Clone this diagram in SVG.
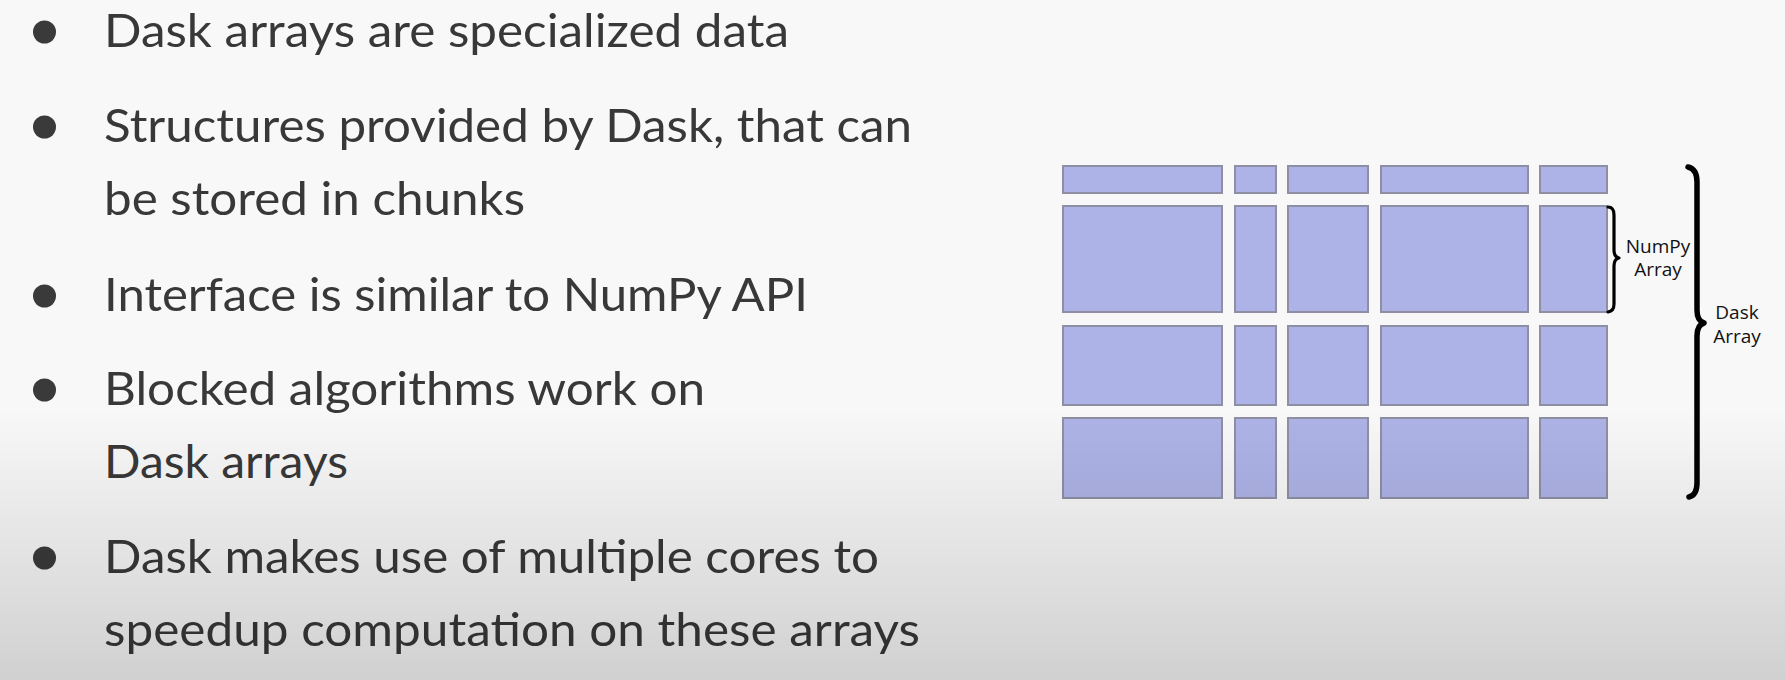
<svg xmlns="http://www.w3.org/2000/svg" width="1785" height="680" viewBox="0 0 1785 680">
  <defs>
    <linearGradient id="shade" x1="0" y1="0" x2="0" y2="680" gradientUnits="userSpaceOnUse">
      <stop offset="0" stop-color="#000" stop-opacity="0"/>
      <stop offset="0.6" stop-color="#000" stop-opacity="0"/>
      <stop offset="1" stop-color="#000" stop-opacity="0.16"/>
    </linearGradient>
  </defs>
  <style>
    .bt { font-family: Lato, "Open Sans", "Liberation Sans", sans-serif; font-size: 47px; fill: #383838; }
    .dot { fill: #3a3a3a; }
    .chunk { fill: #aeb3e7; stroke: #8e8fa3; stroke-width: 2; }
    .lbl { font-family: "Open Sans", "Noto Sans", "DejaVu Sans", sans-serif; font-size: 19px; fill: #111; text-anchor: middle; }
    .brace { fill: none; stroke: #000; stroke-linecap: round; stroke-linejoin: round; }
  </style>
  <rect x="0" y="0" width="1785" height="680" fill="#f8f8f8"/>

  <g id="bullets">
    <g id="bullet1">
      <circle class="dot" cx="44.5" cy="32" r="11.5"/>
      <text class="bt" x="104" y="47" textLength="685" lengthAdjust="spacingAndGlyphs">Dask arrays are specialized data</text>
    </g>
    <g id="bullet2">
      <circle class="dot" cx="44.5" cy="127" r="11.5"/>
      <text class="bt" x="104" y="142" textLength="808" lengthAdjust="spacingAndGlyphs">Structures provided by Dask, that can</text>
      <text class="bt" x="104" y="215" textLength="421" lengthAdjust="spacingAndGlyphs">be stored in chunks</text>
    </g>
    <g id="bullet3">
      <circle class="dot" cx="44.5" cy="296" r="11.5"/>
      <text class="bt" x="104" y="311" textLength="704" lengthAdjust="spacingAndGlyphs">Interface is similar to NumPy API</text>
    </g>
    <g id="bullet4">
      <circle class="dot" cx="44.5" cy="390" r="11.5"/>
      <text class="bt" x="104" y="405" textLength="601" lengthAdjust="spacingAndGlyphs">Blocked algorithms work on</text>
      <text class="bt" x="104" y="478" textLength="244" lengthAdjust="spacingAndGlyphs">Dask arrays</text>
    </g>
    <g id="bullet5">
      <circle class="dot" cx="44.5" cy="558" r="11.5"/>
      <text class="bt" x="104" y="573" textLength="775" lengthAdjust="spacingAndGlyphs">Dask makes use of multiple cores to</text>
      <text class="bt" x="104" y="646" textLength="816" lengthAdjust="spacingAndGlyphs">speedup computation on these arrays</text>
    </g>
  </g>

  <g id="dask-array">
    <g id="row1">
      <rect class="chunk" x="1063" y="166" width="159" height="27"/>
      <rect class="chunk" x="1235" y="166" width="41" height="27"/>
      <rect class="chunk" x="1288" y="166" width="80" height="27"/>
      <rect class="chunk" x="1381" y="166" width="147" height="27"/>
      <rect class="chunk" x="1540" y="166" width="67" height="27"/>
    </g>
    <g id="row2">
      <rect class="chunk" x="1063" y="206" width="159" height="106"/>
      <rect class="chunk" x="1235" y="206" width="41" height="106"/>
      <rect class="chunk" x="1288" y="206" width="80" height="106"/>
      <rect class="chunk" x="1381" y="206" width="147" height="106"/>
      <rect class="chunk" x="1540" y="206" width="67" height="106"/>
    </g>
    <g id="row3">
      <rect class="chunk" x="1063" y="326" width="159" height="79"/>
      <rect class="chunk" x="1235" y="326" width="41" height="79"/>
      <rect class="chunk" x="1288" y="326" width="80" height="79"/>
      <rect class="chunk" x="1381" y="326" width="147" height="79"/>
      <rect class="chunk" x="1540" y="326" width="67" height="79"/>
    </g>
    <g id="row4">
      <rect class="chunk" x="1063" y="418" width="159" height="80"/>
      <rect class="chunk" x="1235" y="418" width="41" height="80"/>
      <rect class="chunk" x="1288" y="418" width="80" height="80"/>
      <rect class="chunk" x="1381" y="418" width="147" height="80"/>
      <rect class="chunk" x="1540" y="418" width="67" height="80"/>
    </g>
  </g>

  <g id="braces">
    <path class="brace" stroke-width="3.2" d="M1608,207 Q1614,207 1614,215 L1614,250 Q1614,257 1619,258 Q1614,259 1614,266 L1614,304 Q1614,311 1608,312"/>
    <path class="brace" stroke-width="5.5" d="M1688,167 Q1697,169 1697,182 L1697,310 Q1697,321 1704,323 Q1697,325 1697,336 L1697,483 Q1697,495 1689,497"/>
  </g>

  <g id="labels">
    <g id="numpy-label">
      <text class="lbl" x="1658" y="253">NumPy</text>
      <text class="lbl" x="1658" y="276">Array</text>
    </g>
    <g id="dask-label">
      <text class="lbl" x="1737" y="319">Dask</text>
      <text class="lbl" x="1737" y="343">Array</text>
    </g>
  </g>

  <rect x="0" y="0" width="1785" height="680" fill="url(#shade)" pointer-events="none"/>
</svg>
